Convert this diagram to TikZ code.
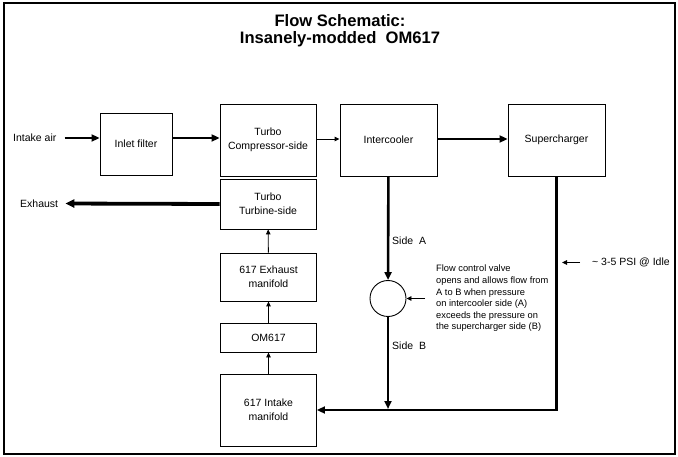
\documentclass[tikz,border=0pt]{standalone}
\usepackage{fontspec}
\setmainfont{Liberation Sans}
\usetikzlibrary{arrows.meta}
\tikzset{
  pipe/.style={line width=2.6pt, -{Triangle[length=8pt, width=7pt]}},
  fatpipe/.style={line width=3.8pt, -{Triangle[length=9pt, width=8pt]}},
  line/.style={line width=0.9pt, -{Triangle[length=5pt, width=4.5pt]}},
  label/.style={anchor=west, inner sep=0pt, font=\fontsize{10.5}{12}\selectfont},
}
\newcommand{\fsbox}[5] {\node at (#1) (#2) [draw, line width=0.9pt, minimum width=#3pt, minimum height=#4pt, inner sep=1pt, align=center, font=\fontsize{10.5}{14}\selectfont] {#5};}
\newcommand{\fslabel}[3] {\node at (#1) (#2) [label] {#3};}
\newcommand{\fspipe}[2] {\draw [pipe] (#1) -- (#2);}
\newcommand{\fsline}[2] {\draw [line] (#1) -- (#2);}

\begin{document}
\begin{tikzpicture}[x=1pt, y=-1pt]
\useasboundingbox (0,0) rectangle (678,457);
\draw [line width=1.4pt] (4,3) rectangle (675,454);

% title
\node at (340,30.5) (title) [align=center, font=\bfseries\fontsize{16.6}{17}\selectfont] {Flow Schematic:\\Insanely-modded\ \ OM617};

% blocks
\fsbox {136,144} {filter} {72} {62} {Inlet filter};
\fsbox {268,140} {compressor} {96} {72} {Turbo\\Compressor-side};
\fsbox {268,204} {turbine} {96} {50} {Turbo\\Turbine-side};
\fsbox {388.5,140} {intercooler} {97} {72} {Intercooler};
\fsbox {556.5,140} {supercharger} {97} {72} {Supercharger};
\fsbox {268.5,277} {exhaustman} {96} {48} {617 Exhaust\\manifold};
\fsbox {268.5,337.5} {engine} {96} {29} {OM617};
\fsbox {268.5,410} {intakeman} {96} {72} {617 Intake\\manifold};
\node at (388,298.5) (valve) [circle, draw, line width=0.9pt, minimum size=36pt, inner sep=0pt] {};
\coordinate (junction) at (388,410);

% labels
\fslabel {13,138} {air} {Intake air};
\fslabel {20,203.5} {exhaust} {Exhaust};
\fslabel {392,241} {sidea} {Side\ \ A};
\fslabel {392,346} {sideb} {Side\ \ B};
\fslabel {592,262.5} {psi} {\char`~\ 3-5 PSI @ Idle};
\node at (436,298.5) (note) [label, align=left, font=\fontsize{9.3}{11.6}\selectfont] {Flow control valve\\opens and allows flow from\\A\ to B when pressure\\on intercooler side (A)\\exceeds the pressure on\\the supercharger side (B)};

% flow
\draw [pipe, shorten <=8pt] (air.east) -- (air -| filter.west);
\draw [pipe] (filter.east |- air) -- (air -| compressor.west);
\draw [line] (compressor.east |- 0,139) -- (intercooler.west |- 0,139);
\draw [pipe] (intercooler.east |- 0,139) -- (supercharger.west |- 0,139);
\draw [fatpipe, shorten >=7pt] (turbine.west) -- (exhaust.east);
\fsline{intakeman}{engine};
\fsline{engine}{exhaustman};
\fsline{exhaustman}{turbine};
\fspipe{intercooler}{valve};
\draw [pipe, shorten >=1pt] (valve.south) -- (junction);
\draw [pipe] (supercharger.south) |- (intakeman.east);

% notes
\draw [line, shorten <=11pt] (note.west) -- (valve.east);
\draw [line, shorten <=12pt] (psi.west) -- (psi.west -| 562,0);

\end{tikzpicture}
\end{document}
